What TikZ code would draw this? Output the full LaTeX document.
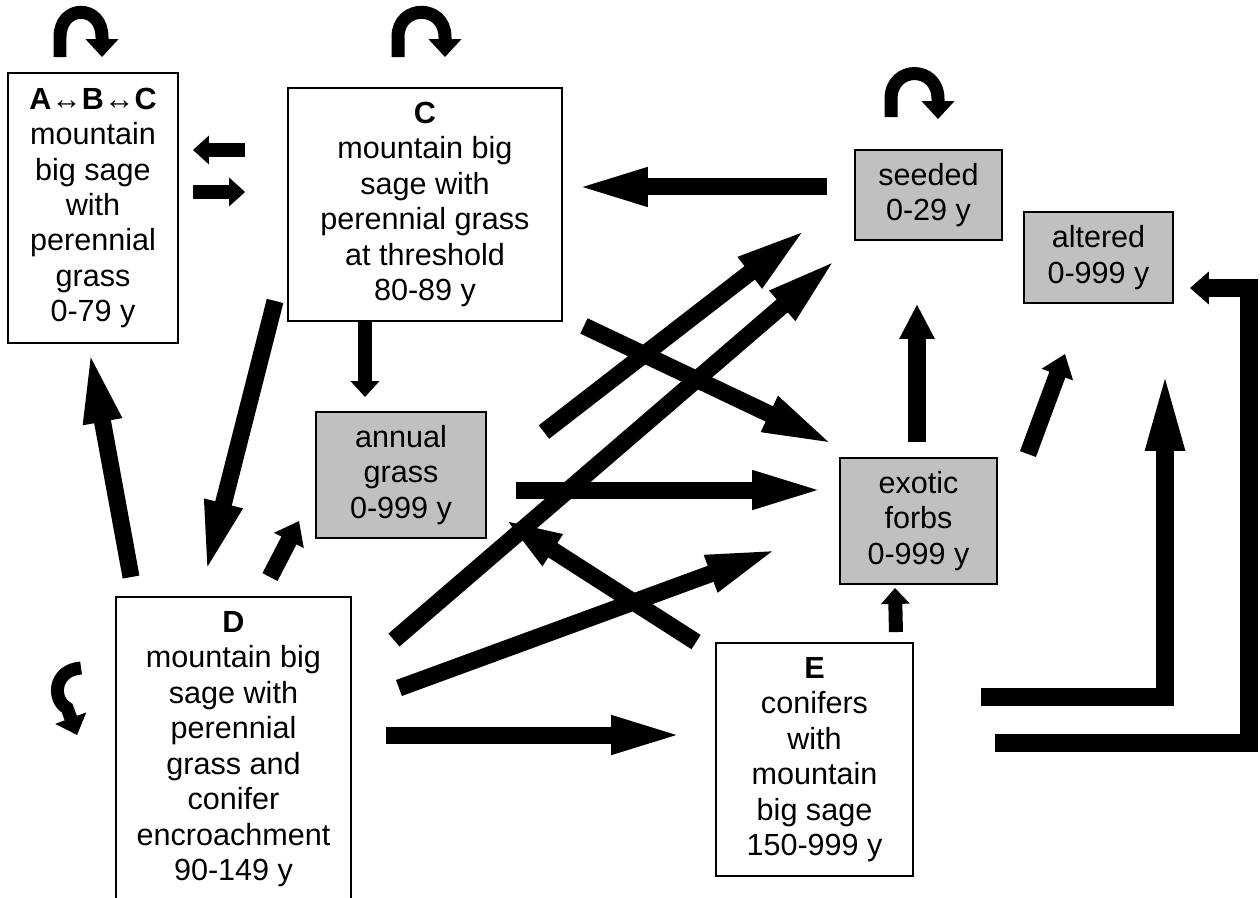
\documentclass[tikz,border=0pt]{standalone}
\usepackage{fontspec}
\setmainfont{Liberation Sans}
\usetikzlibrary{arrows.meta,calc}
\definecolor{boxgray}{RGB}{192,192,192}
\tikzset{
  state/.style={draw, line width=1.1pt, align=center, inner sep=0pt,
    font=\fontsize{17.4pt}{20.2pt}\selectfont},
  graybox/.style={state, fill=boxgray},
  flow/.style={line width=0.34cm, -{Triangle[length=1.5cm,width=0.68cm]}},
  stub/.style={line width=0.34cm, -{Triangle[length=0.44cm,width=0.64cm]}},
  thinstub/.style={line width=0.28cm, -{Triangle[length=0.32cm,width=0.56cm]}},
  loopline/.style={line width=0.26cm, -{Triangle[length=0.36cm,width=0.64cm]}}
}
\begin{document}
\begin{tikzpicture}[x=0.02cm,y=-0.02cm]
\useasboundingbox (0,0) rectangle (1260,898);
% states
\node[state, minimum width=3.4cm, minimum height=5.4cm] (A) at (93,208)
  {\textbf{A}↔\textbf{B}↔\textbf{C}\\mountain\\big sage\\with\\perennial\\grass\\0-79 y};
\node[state, minimum width=5.48cm, minimum height=4.66cm] (C) at (425,204.5)
  {\textbf{C}\\mountain big\\sage with\\perennial grass\\at threshold\\80-89 y};
\node[graybox, minimum width=2.94cm, minimum height=1.8cm] (seeded) at (928.5,195)
  {seeded\\0-29 y};
\node[graybox, minimum width=2.98cm, minimum height=1.82cm] (altered) at (1098.5,257.5)
  {altered\\0-999 y};
\node[graybox, minimum width=3.4cm, minimum height=2.52cm] (annual) at (401,475)
  {annual\\grass\\0-999 y};
\node[graybox, minimum width=3.14cm, minimum height=2.52cm] (exotic) at (918.5,521)
  {exotic\\forbs\\0-999 y};
\node[state, minimum width=4.7cm, minimum height=6.08cm] (D) at (233.5,749)
  {\textbf{D}\\mountain big\\sage with\\perennial\\grass and\\conifer\\encroachment\\90-149 y};
\node[state, minimum width=3.94cm, minimum height=4.66cm] (E) at (814.5,759.5)
  {\textbf{E}\\conifers\\with\\mountain\\big sage\\150-999 y};

% staying in the same state
\draw[loopline, shift={(A.north)}] (-33,-15) -- (-33,-35) .. controls (-33,-68) and (9,-68) .. (9,-35) -- (9,-15);
\draw[loopline, shift={(C.north)}] (-27,-30) -- (-27,-50) .. controls (-27,-83) and (20,-83) .. (20,-50) -- (20,-30);
\draw[loopline, shift={(seeded.north)}] (-37.5,-32) -- (-37.5,-50) .. controls (-37.5,-84) and (9.5,-84) .. (9.5,-50) -- (9.5,-30);
\draw[loopline, shift={(D.west)}] (-34,-81) .. controls (-62,-79) and (-63,-49) .. (-48,-41) -- (-38,-14);

% between A and C
\draw[thinstub] ($(C.west)+(-42,-54.5)$) -- ($(A.east)+(14,-58)$);
\draw[thinstub] ($(A.east)+(14,-16)$) -- ($(C.west)+(-42,-12.5)$);
\draw[thinstub] ($(C.south)+(-60,0)$) -- ($(annual.north)+(-36,-14)$);

% long transitions
\draw[flow] ($(D.north west)+(16,-19)$) -- ($(A.south)+(-4,4)$);
\draw[flow] ($(C.south west)+(-12,-21)$) -- ($(D.north)+(-28.5,-20)$);
\draw[stub] ($(D.north)+(36.5,-19)$) -- ($(annual.south west)+(-16,-18)$);
\draw[flow] ($(seeded.west)+(-27,-8)$) -- ($(C.east)+(10,-17.5)$);
\draw[flow] ($(annual.east)+(29,15)$) -- ($(exotic.west)+(-12,-31)$);
\draw[flow] ($(C.south east)+(21,4)$) -- ($(exotic.north west)+(-2,-11)$);
\draw[flow] ($(annual.north east)+(57,21)$) -- ($(seeded.south west)+(-45,-14)$);
\draw[flow] ($(D.north east)+(42,44)$) -- ($(seeded.south west)+(-15,16)$);
\draw[flow] ($(D.east)+(47,-61)$) -- ($(exotic.west)+(-58,27)$);
\draw[line width=0.34cm, -{Triangle[length=1.16cm,width=0.66cm]}] ($(E.north west)+(-19,0)$) -- ($(annual.south east)+(17,-20)$);
\draw[flow] ($(D.east)+(34,-14)$) -- ($(E.west)+(-29,-24.5)$);
\draw[thinstub] ($(E.north east)+(-18,-10)$) -- ($(exotic.south)+(-23.5,3)$);
\draw[line width=0.36cm, -{Triangle[length=0.7cm,width=0.66cm]}] ($(exotic.north)+(-1.5,-15)$) -- ($(seeded.south)+(-11.5,63)$);
\draw[stub] ($(exotic.north east)+(30,-3)$) -- ($(altered.south)+(-33.5,50)$);

% to altered, round the right side
\draw[line width=0.36cm, -{Triangle[length=1.7cm,width=0.68cm]}] ($(E.east)+(67,-62.5)$) -| ($(altered.south)+(66.5,62)$);
\draw[line width=0.36cm, -{Triangle[length=0.38cm,width=0.64cm]}] ($(E.east)+(81,-16.5)$) -| ($(altered.east)+(75,30.5)$) -- ($(altered.east)+(16,30.5)$);
\end{tikzpicture}
\end{document}
